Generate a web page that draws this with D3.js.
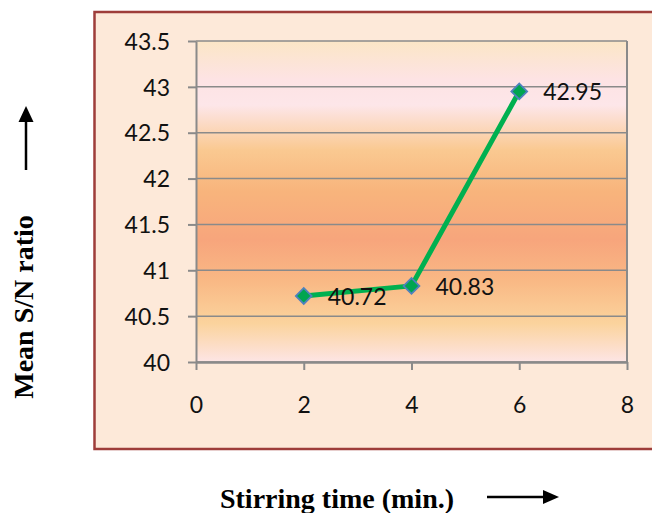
<!DOCTYPE html>
<html>
<head>
<meta charset="utf-8">
<script src="https://cdn.jsdelivr.net/npm/d3@7"></script>
<style>
  html, body { margin: 0; padding: 0; background: #ffffff; }
  svg { display: block; }
</style>
</head>
<body>
<svg id="chart" width="652" height="513"></svg>
<script>
// ---- data ----
const stirringTime = [2, 4, 6];
const meanSN = [40.72, 40.83, 42.95];
const dataLabels = ["40.72", "40.83", "42.95"];
const xTicks = [0, 2, 4, 6, 8];
const yTicks = [40, 40.5, 41, 41.5, 42, 42.5, 43, 43.5];
const xTitle = "Stirring time (min.)";
const yTitle = "Mean S/N ratio";

const svg = d3.select("#chart");
const W = 652, H = 513;
const plot = { left: 196, right: 627, top: 41, bottom: 362 };

const x = d3.scaleLinear().domain([0, 8]).range([plot.left, plot.right]);
const y = d3.scaleLinear().domain([40, 43.5]).range([plot.bottom, plot.top]);

// defs: plot gradient + arrowheads
const defs = svg.append("defs");
const grad = defs.append("linearGradient").attr("id", "plotGrad")
  .attr("x1", 0).attr("y1", 0).attr("x2", 0).attr("y2", 1);
[
  [0, "#fbe6c6"], [0.12, "#fde3e4"], [0.2, "#fde6e9"], [0.34, "#fac991"],
  [0.47, "#f8b47c"], [0.62, "#f7a57c"], [0.75, "#f9b985"], [0.88, "#fbd39d"],
  [1, "#fde5e5"]
].forEach(([o, c]) => grad.append("stop").attr("offset", o).attr("stop-color", c));

// outer chart box
svg.append("rect")
  .attr("x", 94.5).attr("y", 12).attr("width", 620).attr("height", 437)
  .attr("fill", "#fde9d9").attr("stroke", "#9e3d3a").attr("stroke-width", 2.5);

// plot area
svg.append("rect")
  .attr("x", plot.left).attr("y", plot.top)
  .attr("width", plot.right - plot.left).attr("height", plot.bottom - plot.top)
  .attr("fill", "url(#plotGrad)");

// gridlines
svg.append("g").selectAll("line").data(yTicks).join("line")
  .attr("x1", plot.left).attr("x2", plot.right)
  .attr("y1", d => y(d)).attr("y2", d => y(d))
  .attr("stroke", "#8a8a8a").attr("stroke-width", 1.5);

// right border of plot
svg.append("line")
  .attr("x1", plot.right).attr("x2", plot.right)
  .attr("y1", plot.top).attr("y2", plot.bottom)
  .attr("stroke", "#8a8a8a").attr("stroke-width", 2);

const tickFont = "Lato, 'Open Sans', sans-serif";

// y axis
const yAxis = svg.append("g").attr("transform", `translate(${plot.left},0)`)
  .call(d3.axisLeft(y).tickValues(yTicks).tickSize(8).tickSizeOuter(0).tickPadding(18)
    .tickFormat(d => String(d)));
yAxis.select(".domain").attr("stroke", "#8a8a8a").attr("stroke-width", 2);
yAxis.selectAll(".tick line").attr("stroke", "#8a8a8a").attr("stroke-width", 2);
yAxis.selectAll(".tick text").attr("font-family", tickFont).attr("font-size", 23)
  .attr("fill", "#111").attr("dy", "0.36em");

// x axis
const xAxis = svg.append("g").attr("transform", `translate(0,${plot.bottom})`)
  .call(d3.axisBottom(x).tickValues(xTicks).tickSize(8).tickSizeOuter(0).tickPadding(27)
    .tickFormat(d => String(d)));
xAxis.select(".domain").attr("stroke", "#8a8a8a").attr("stroke-width", 2.5);
xAxis.selectAll(".tick line").attr("stroke", "#8a8a8a").attr("stroke-width", 2);
xAxis.selectAll(".tick text").attr("font-family", tickFont).attr("font-size", 23)
  .attr("fill", "#111");

// series
const pts = stirringTime.map((t, i) => ({ t, v: meanSN[i], lab: dataLabels[i] }));
svg.append("path").datum(pts)
  .attr("d", d3.line().x(d => x(d.t)).y(d => y(d.v)))
  .attr("fill", "none").attr("stroke", "#00b050").attr("stroke-width", 5)
  .attr("stroke-linejoin", "round");

const diamond = d3.symbol().type(d3.symbolSquare).size(125);
svg.append("g").selectAll("path").data(pts).join("path")
  .attr("d", diamond)
  .attr("transform", d => `translate(${x(d.t)},${y(d.v)}) rotate(45)`)
  .attr("fill", "#00a550").attr("stroke", "#4f81bd").attr("stroke-width", 1.8);

svg.append("g").selectAll("text").data(pts).join("text")
  .attr("x", d => x(d.t) + 24).attr("y", d => y(d.v) + 9)
  .attr("font-family", tickFont).attr("font-size", 23).attr("fill", "#111")
  .text(d => d.lab);

// axis titles
const titleFont = "'Liberation Serif', 'Times New Roman', serif";
svg.append("text")
  .attr("transform", "translate(33,307) rotate(-90)")
  .attr("text-anchor", "middle")
  .attr("font-family", titleFont).attr("font-weight", "bold").attr("font-size", 28)
  .attr("fill", "#000").text(yTitle);

svg.append("text")
  .attr("x", 337).attr("y", 508)
  .attr("text-anchor", "middle")
  .attr("font-family", titleFont).attr("font-weight", "bold").attr("font-size", 28)
  .attr("fill", "#000").text(xTitle);

// arrows
// up arrow
svg.append("line").attr("x1", 26).attr("x2", 26).attr("y1", 170).attr("y2", 118)
  .attr("stroke", "#000").attr("stroke-width", 2.5);
svg.append("path").attr("d", "M26,106 L33.5,122 L18.5,122 Z").attr("fill", "#000");
// right arrow
svg.append("line").attr("x1", 487).attr("x2", 546).attr("y1", 497).attr("y2", 497)
  .attr("stroke", "#000").attr("stroke-width", 2.5);
svg.append("path").attr("d", "M559,497 L543,490 L543,504 Z").attr("fill", "#000");
</script>
</body>
</html>
